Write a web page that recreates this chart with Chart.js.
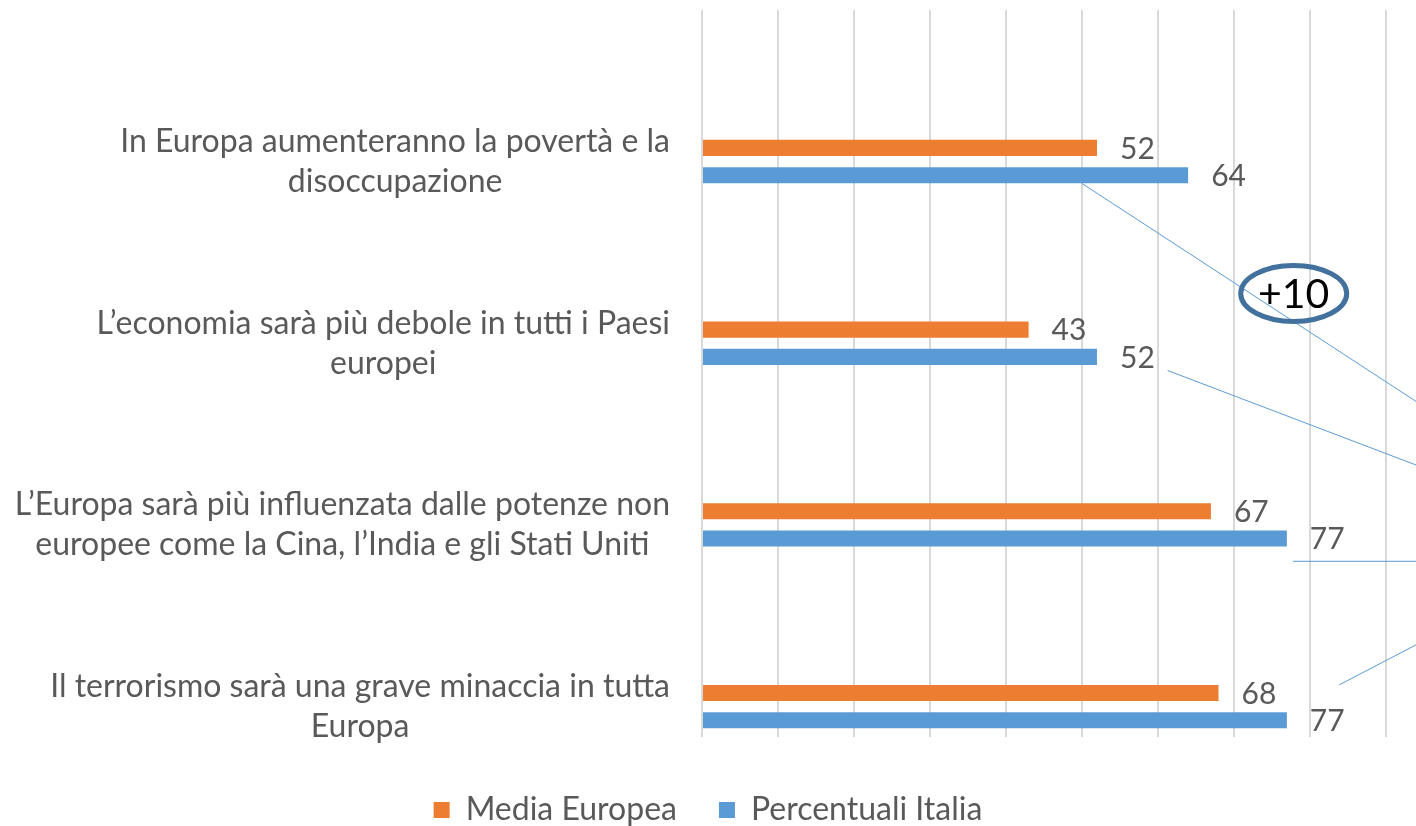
<!DOCTYPE html>
<html>
<head>
<meta charset="utf-8">
<script src="https://cdn.jsdelivr.net/npm/chart.js@4"></script>
<style>
  html, body { margin: 0; padding: 0; background: #fff; }
  #wrap { width: 1416px; height: 826px; }
</style>
</head>
<body>
<div id="wrap"><canvas id="myChart" width="1416" height="826"></canvas></div>
<script>
const categories = [
  ["In Europa aumenteranno la povertà e la", "disoccupazione"],
  ["L’economia sarà più debole in tutti i Paesi", "europei"],
  ["L’Europa sarà più influenzata dalle potenze non", "europee come la Cina, l’India e gli Stati Uniti"],
  ["Il terrorismo sarà una grave minaccia in tutta", "Europa"],
];
const mediaEuropea = [52, 43, 67, 68];
const percentualiItalia = [64, 52, 77, 77];

// callout lines going off to the right, in data units [x1, y1, x2, y2]
const callouts = [
  [50, 0.12, 94, 1.32],
  [61.3, 1.15, 94, 1.67],
  [77.8, 2.2, 94, 2.2],
  [83.9, 2.88, 94, 2.66],
];
const badge = { x: 77.9, y: 0.726, text: "+10" };

const grey = "#595959";
const fontFamily = "Lato, 'Open Sans', sans-serif";

const toPoints = (arr) => arr.map((v, i) => ({ x: v, y: i }));

const data = {
  datasets: [
    {
      label: "Media Europea",
      data: toPoints(mediaEuropea),
      backgroundColor: "#ED7D31",
      categoryPercentage: 0.3,
      barPercentage: 0.59,
    },
    {
      label: "Percentuali Italia",
      data: toPoints(percentualiItalia),
      backgroundColor: "#5B9BD5",
      categoryPercentage: 0.3,
      barPercentage: 0.59,
    },
  ],
};

const extras = {
  id: "extras",
  afterDatasetsDraw(chart) {
    const { ctx } = chart;
    const xs = chart.scales.x;
    const ys = chart.scales.y;

    // value labels
    ctx.save();
    ctx.font = "30px " + fontFamily;
    ctx.fillStyle = grey;
    ctx.textBaseline = "middle";
    chart.data.datasets.forEach((ds, di) => {
      chart.getDatasetMeta(di).data.forEach((bar, i) => {
        ctx.fillText(ds.data[i].x, bar.x + 23, bar.y + 1);
      });
    });
    ctx.restore();

    // category labels: right aligned block, lines centred within it
    ctx.save();
    ctx.font = "32px " + fontFamily;
    ctx.fillStyle = grey;
    ctx.textBaseline = "middle";
    ctx.textAlign = "center";
    const right = chart.chartArea.left - 32;
    const lh = 40;
    categories.forEach((lines, i) => {
      const w = Math.max(...lines.map((l) => ctx.measureText(l).width));
      const cy = ys.getPixelForValue(i);
      lines.forEach((l, k) => {
        ctx.fillText(l, right - w / 2, cy + (k - (lines.length - 1) / 2) * lh);
      });
    });
    ctx.restore();

    // callouts
    ctx.save();
    ctx.strokeStyle = "#5B9BD5";
    ctx.lineWidth = 1;
    callouts.forEach(([x1, y1, x2, y2]) => {
      ctx.beginPath();
      ctx.moveTo(xs.getPixelForValue(x1), ys.getPixelForValue(y1));
      ctx.lineTo(xs.getPixelForValue(x2), ys.getPixelForValue(y2));
      ctx.stroke();
    });
    const bx = xs.getPixelForValue(badge.x);
    const by = ys.getPixelForValue(badge.y);
    ctx.fillStyle = "#000";
    ctx.font = "41px " + fontFamily;
    ctx.textAlign = "center";
    ctx.textBaseline = "middle";
    ctx.fillText(badge.text, bx, by + 1);
    ctx.strokeStyle = "#41719C";
    ctx.lineWidth = 5;
    ctx.beginPath();
    ctx.ellipse(bx, by, 53, 28, 0, 0, Math.PI * 2);
    ctx.stroke();
    ctx.restore();
  },
};

const config = {
  type: "bar",
  data: data,
  options: {
    indexAxis: "y",
    responsive: false,
    animation: false,
    layout: { padding: { top: 10, left: 0, right: 0, bottom: 0 } },
    scales: {
      x: {
        type: "linear",
        min: 0,
        max: 94,
        ticks: { display: false, stepSize: 10, includeBounds: false },
        grid: { color: "#D9D9D9", lineWidth: 2, drawTicks: false },
        border: { display: false },
        afterFit: (s) => { s.height = 15; },
      },
      y: {
        type: "linear",
        reverse: true,
        offset: false,
        min: -0.834,
        max: 3.167,
        ticks: { display: false },
        afterBuildTicks: (s) => { s.ticks = categories.map((c, i) => ({ value: i })); },
        grid: { display: false, offset: false },
        border: { display: false },
        afterFit: (s) => { s.width = 702; },
      },
    },
    plugins: {
      tooltip: { enabled: false },
      legend: {
        position: "bottom",
        maxHeight: 74,
        labels: {
          color: grey,
          font: { family: fontFamily, size: 32 },
          boxWidth: 16,
          boxHeight: 16,
          padding: 42,
        },
      },
    },
  },
  plugins: [extras],
};

var myChart = new Chart(document.getElementById("myChart"), config);
</script>
</body>
</html>
